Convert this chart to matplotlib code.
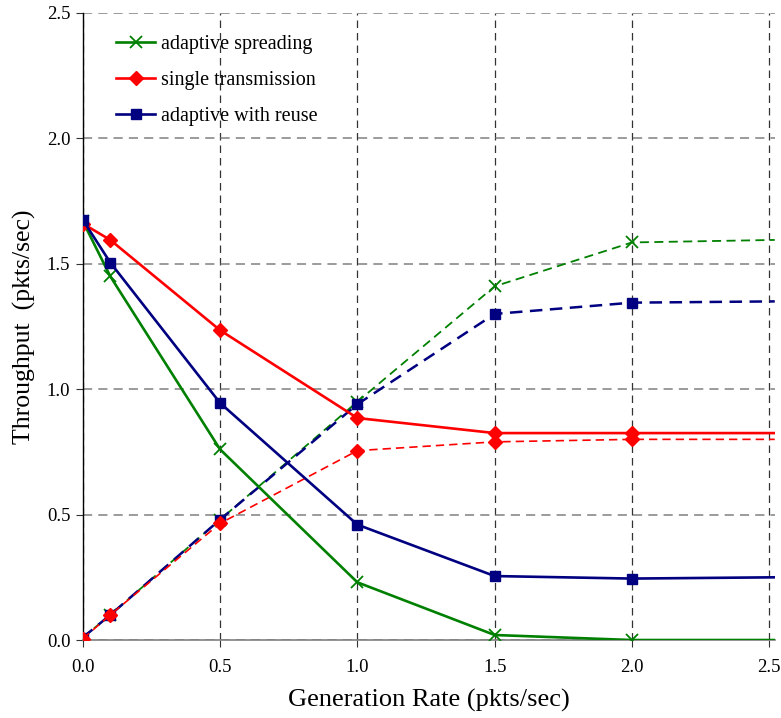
import matplotlib
matplotlib.use("Agg")
import matplotlib.pyplot as plt

plt.rcParams['font.family'] = ['Liberation Serif', 'DejaVu Serif']

x = [0.0, 0.1, 0.5, 1.0, 1.5, 2.0, 2.52]

spread_solid = [1.67, 1.45, 0.76, 0.23, 0.02, 0.0, 0.0]
single_solid = [1.66, 1.595, 1.235, 0.885, 0.825, 0.825, 0.825]
reuse_solid = [1.675, 1.505, 0.945, 0.46, 0.255, 0.245, 0.25]

spread_dash = [0.01, 0.10, 0.48, 0.95, 1.41, 1.585, 1.595]
single_dash = [0.005, 0.10, 0.465, 0.755, 0.79, 0.80, 0.80]
reuse_dash = [0.01, 0.10, 0.48, 0.94, 1.30, 1.345, 1.35]

xticks = [0.0, 0.5, 1.0, 1.5, 2.0, 2.5]
yticks = [0.0, 0.5, 1.0, 1.5, 2.0, 2.5]

green = '#008000'
red = '#FF0000'
navy = '#000080'

fig = plt.figure(figsize=(7.81, 7.18), dpi=100)
ax = fig.add_axes([0.106, 0.1086, 0.886, 0.8734])

me = list(range(len(x) - 1))

# dashed (rising) curves
ax.plot(x, spread_dash, color=green, lw=1.3, ls=(0, (5, 3)), marker='x', ms=9, mew=1.3, markevery=me, zorder=3)
ax.plot(x, reuse_dash, color=navy, lw=1.8, ls=(0, (5, 3)), marker='s', ms=6.5, markevery=me, zorder=3)
ax.plot(x, single_dash, color=red, lw=1.2, ls=(0, (5, 3)), marker='D', ms=7.5, markevery=me, zorder=3)

# solid curves
ax.plot(x, spread_solid, color=green, lw=1.9, marker='x', ms=9, mew=1.3, markevery=me, label='adaptive spreading', zorder=4)
ax.plot(x, single_solid, color=red, lw=1.9, marker='D', ms=7.5, markevery=me, label='single transmission', zorder=4)
ax.plot(x, reuse_solid, color=navy, lw=1.9, marker='s', ms=6.5, markevery=me, label='adaptive with reuse', zorder=4)

ax.set_xlim(0, 2.52)
ax.set_ylim(0, 2.5)
ax.set_xticks(xticks)
ax.set_yticks(yticks)
ax.set_xticklabels([f"{t:.1f}" for t in xticks], fontsize=13.5)
ax.set_yticklabels([f"{t:.1f}" for t in yticks], fontsize=13.5)

ax.yaxis.grid(True, color='#808080', ls=(0, (6, 4)), lw=1.1)
ax.xaxis.grid(True, color='#333333', ls=(0, (6, 4)), lw=0.9)
ax.set_axisbelow(True)

for s in ['top', 'right']:
    ax.spines[s].set_visible(False)
ax.spines['left'].set_color('black')
ax.spines['left'].set_linewidth(1.0)
ax.spines['bottom'].set_color('#808080')
ax.spines['bottom'].set_linewidth(1.2)
ax.tick_params(axis='both', direction='out', length=5, colors='#333333', labelcolor='black')
ax.tick_params(axis='x', pad=9)
ax.tick_params(axis='y', pad=4)

ax.set_xlabel('Generation Rate (pkts/sec)', fontsize=19, labelpad=9)
ax.set_ylabel('Throughput  (pkts/sec)', fontsize=18.5, labelpad=8)

leg = ax.legend(loc='upper left', bbox_to_anchor=(0.022, 0.994), frameon=False, fontsize=14.5,
                labelspacing=0.85, handlelength=1.95, handletextpad=0.3)

fig.savefig('out.png', dpi=100)
